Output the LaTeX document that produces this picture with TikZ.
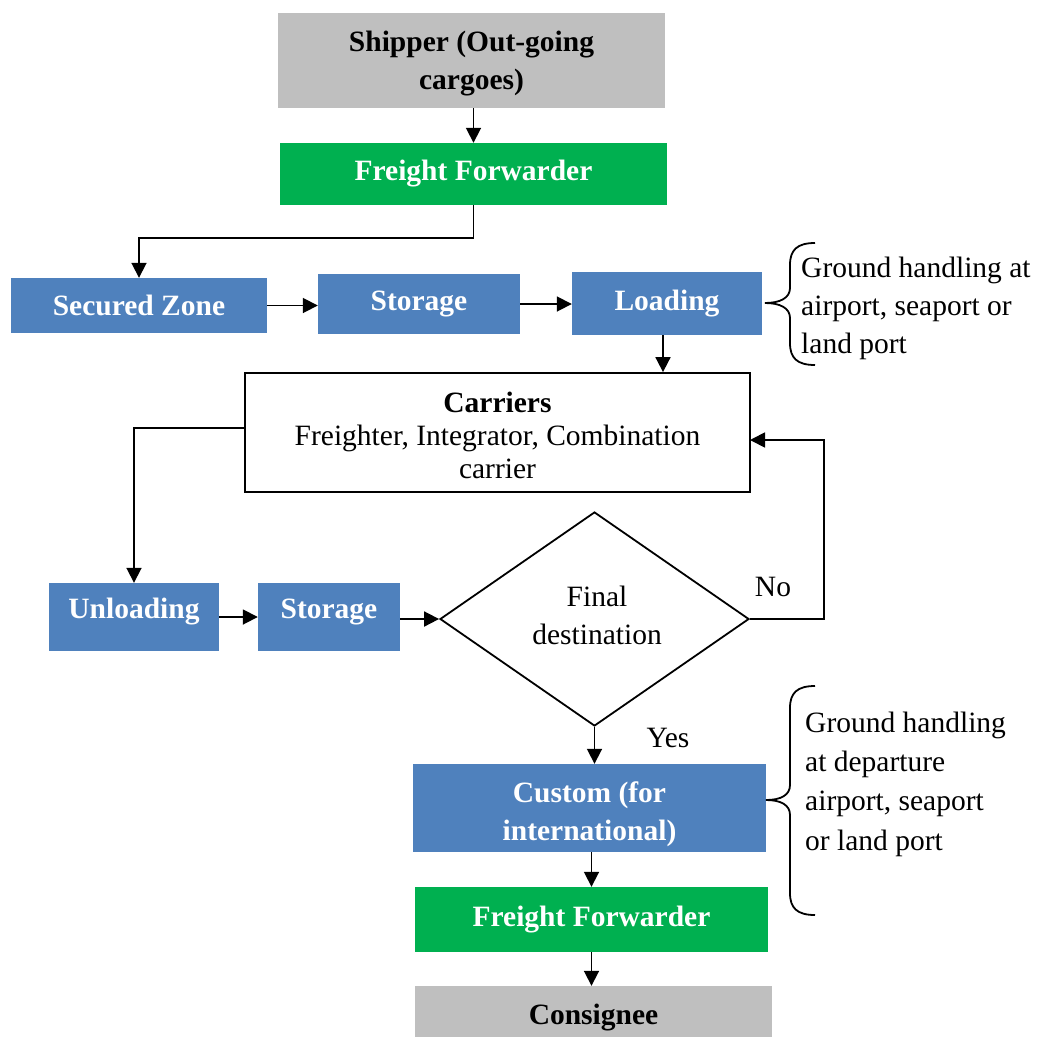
\documentclass[tikz,border=0pt]{standalone}
\usepackage{fontspec}
\setmainfont{Liberation Serif}
\usetikzlibrary{shapes.geometric,arrows.meta,calc}
\definecolor{cblue}{HTML}{4F81BD}
\definecolor{cgreen}{HTML}{00B050}
\definecolor{cgray}{HTML}{BFBFBF}
\tikzset{
  base/.style={rectangle,inner sep=0pt,align=center,font=\fontsize{29.5}{38}\selectfont\bfseries},
  bluebox/.style={base,fill=cblue,text=white},
  greenbox/.style={base,fill=cgreen,text=white},
  graybox/.style={base,fill=cgray,text=black},
  wtext/.style={inner sep=0pt,align=center,text=white,font=\fontsize{29.5}{38}\selectfont\bfseries},
  btext/.style={inner sep=0pt,align=center,text=black,font=\fontsize{29.5}{38}\selectfont\bfseries},
  plain/.style={inner sep=0pt,align=left,font=\fontsize{29.5}{38}\selectfont},
  conn/.style={line width=1.8pt,-{Triangle[length=15pt,width=15pt]}},
  brace/.style={line width=1.8pt},
}
\begin{document}
\begin{tikzpicture}[x=1pt,y=-1pt]
\useasboundingbox (0,0) rectangle (1042,1037);
\node[graybox,minimum width=387,minimum height=95] (ship) at (471.5,60.5) {};
\node[btext] (shipt) at (471.5,63.5) {Shipper (Out-going\\cargoes)};
\node[greenbox,minimum width=387,minimum height=62] (ff1) at (473.5,174) {Freight Forwarder};
\node[bluebox,minimum width=256,minimum height=55] (sec) at (139,305.5) {Secured Zone};
\node[bluebox,minimum width=202,minimum height=60] (st1) at (419,304) {Storage};
\node[bluebox,minimum width=190,minimum height=63] (load) at (667,303.5) {Loading};
\node[draw,line width=1.8pt,inner sep=0pt,minimum width=505,minimum height=119] (car) at (497.5,432.5) {};
\node[inner sep=0pt,align=center,font=\fontsize{29.5}{33}\selectfont] (cart) at (497.5,435.5) {\textbf{Carriers}\\Freighter, Integrator, Combination\\carrier};
\node[bluebox,minimum width=170,minimum height=68] (unl) at (134,617) {};
\node[wtext] (unlt) at (134,612) {Unloading};
\node[bluebox,minimum width=142,minimum height=68] (st2) at (329,617) {};
\node[wtext] (st2t) at (329,612) {Storage};
\node[diamond,draw,line width=1.8pt,inner sep=0pt,minimum width=309,minimum height=214] (dia) at (594.5,619) {};
\node[inner sep=0pt,align=center,font=\fontsize{29.5}{38}\selectfont] (diat) at (597,615) {Final\\destination};
\node[bluebox,minimum width=353,minimum height=88] (cus) at (589.5,808) {};
\node[wtext] (cust) at (589.5,814) {Custom (for\\international)};
\node[greenbox,minimum width=353,minimum height=65] (ff2) at (591.5,919.5) {Freight Forwarder};
\node[graybox,minimum width=357,minimum height=51] (con) at (593.5,1011.5) {};
\node[btext] (cont) at (593.5,1017.5) {Consignee};
\node[plain] (no) at (773,587) {No};
\node[plain] (yes) at (668,738) {Yes};
\node[plain,anchor=west] (g1) at (801,308) {Ground handling at\\airport, seaport or\\land port};
\node[plain,anchor=west,font=\fontsize{29.5}{39.3}\selectfont] (g2) at (805,784) {Ground handling\\at departure\\airport, seaport\\or land port};
\coordinate (noin) at (750,440);
% connectors
\draw[conn] (ship.south -| ff1.north) -- (ff1.north);
\draw[conn] (ff1.south) -- ++(0,33) -| (sec.north);
\draw[conn] (sec.east) -- (sec.east -| st1.west);
\draw[conn] (st1.east) -- (st1.east -| load.west);
\draw[conn] ($(load.south)+(-4,0)$) -- ($(load.south |- car.north)+(-4,0)$);
\draw[conn] ($(car.west)+(0,-4.5)$) -| (unl.north);
\draw[conn] (unl.east) -- (unl.east -| st2.west);
\draw[conn] (st2.east |- dia.west) -- (dia.west);
\draw[conn] (dia.east) -- ++(74,0) |- (noin);
\draw[conn] (dia.south) -- (dia.south |- cus.north);
\draw[conn] (cus.south -| ff2.north) -- (ff2.north);
\draw[conn] (ff2.south) -- (ff2.south |- con.north);
% braces
\draw[brace] (815,243) .. controls (797,243) and (790,250) .. (790,265) -- (790,288) .. controls (790,298) and (780,303) .. (765,303) .. controls (780,303) and (790,308) .. (790,318) -- (790,343) .. controls (790,358) and (797,365) .. (815,365);
\draw[brace] (815,686) .. controls (797,686) and (790,693) .. (790,708) -- (790,785) .. controls (790,795) and (781,800) .. (766,800) .. controls (781,800) and (790,805) .. (790,815) -- (790,893) .. controls (790,908) and (797,915) .. (815,915);
\end{tikzpicture}
\end{document}
